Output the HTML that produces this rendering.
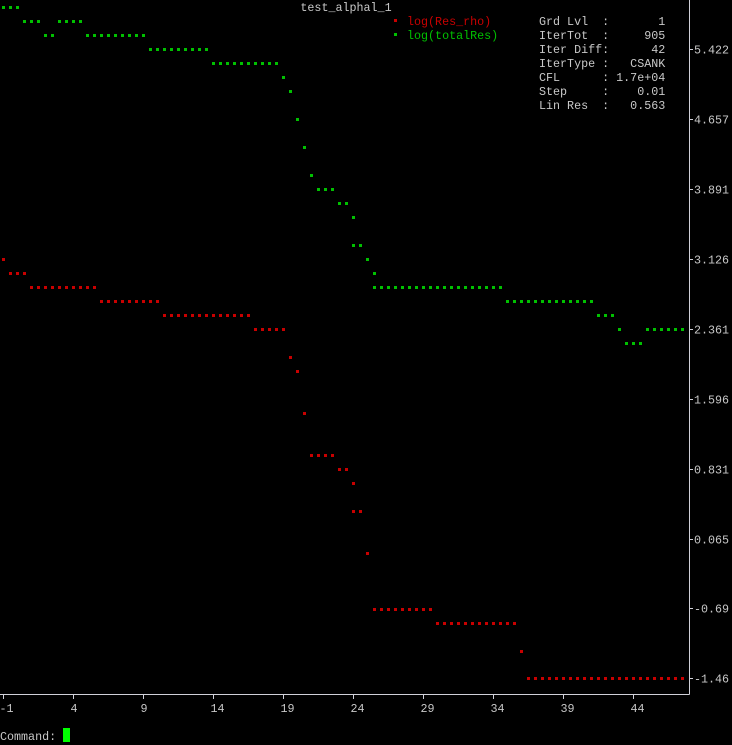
<!DOCTYPE html>
<html><head><meta charset="utf-8"><style>
html,body{margin:0;padding:0;background:#000;width:732px;height:745px;overflow:hidden}
svg{display:block}
text{font-family:"Liberation Mono",monospace;font-size:11.7px;fill:#c8c8c8}
</style></head><body>
<svg id="chart" width="732" height="745" xmlns="http://www.w3.org/2000/svg">
<text x="346" y="11" text-anchor="middle">test_alphal_1</text>
<g>
<rect x="394" y="19" width="3" height="3" fill="#c80000"/>
<text x="407" y="25" style="fill:#c80000">log(Res_rho)</text>
<rect x="394" y="33" width="3" height="3" fill="#00c000"/>
<text x="407" y="39" style="fill:#00c000">log(totalRes)</text>
</g>
<text xml:space="preserve" style="white-space:pre">
<tspan x="539" y="25">Grd Lvl  :       1</tspan>
<tspan x="539" y="39">IterTot  :     905</tspan>
<tspan x="539" y="53">Iter Diff:      42</tspan>
<tspan x="539" y="67">IterType :   CSANK</tspan>
<tspan x="539" y="81">CFL      : 1.7e+04</tspan>
<tspan x="539" y="95">Step     :    0.01</tspan>
<tspan x="539" y="109">Lin Res  :   0.563</tspan>
</text>
<line x1="689.5" y1="0" x2="689.5" y2="694.5" stroke="#d0d0d8" stroke-width="1"/>
<line x1="0" y1="694.5" x2="689.5" y2="694.5" stroke="#d0d0d8" stroke-width="1"/>
<g id="marks"></g>
<text x="0" y="740">Command:</text>
<rect x="63" y="728" width="7" height="14" fill="#00ff00"/>
</svg>
<script>
const yTicks = [5.422, 4.657, 3.891, 3.126, 2.361, 1.596, 0.831, 0.065, -0.69, -1.46];
const xTicks = [-1, 4, 9, 14, 19, 24, 29, 34, 39, 44];
const greenX = [-1,-0.5,0, 0.5,1,1.5, 2,2.5, 3,3.5,4,4.5, 5,5.5,6,6.5,7,7.5,8,8.5,9,
 9.5,10,10.5,11,11.5,12,12.5,13,13.5, 14,14.5,15,15.5,16,16.5,17,17.5,18,18.5,
 19,19.5,20,20.5,21, 21.5,22,22.5, 23,23.5, 24,24,24.5, 25,
 25.5,25.5,26,26.5,27,27.5,28,28.5,29,29.5,30,30.5,31,31.5,32,32.5,33,33.5,34,34.5,
 35,35.5,36,36.5,37,37.5,38,38.5,39,39.5,40,40.5,41, 41.5,42,42.5, 43, 43.5,44,44.5,
 45,45.5,46,46.5,47,47.5];
const greenY = [5.881,5.881,5.881, 5.728,5.728,5.728, 5.575,5.575, 5.728,5.728,5.728,5.728,
 5.575,5.575,5.575,5.575,5.575,5.575,5.575,5.575,5.575,
 5.422,5.422,5.422,5.422,5.422,5.422,5.422,5.422,5.422,
 5.269,5.269,5.269,5.269,5.269,5.269,5.269,5.269,5.269,5.269,
 5.116,4.963,4.657,4.350,4.044, 3.891,3.891,3.891, 3.738,3.738, 3.585,3.279,3.279, 3.126,
 2.972,2.819,2.819,2.819,2.819,2.819,2.819,2.819,2.819,2.819,2.819,2.819,2.819,2.819,2.819,2.819,2.819,2.819,2.819,2.819,
 2.666,2.666,2.666,2.666,2.666,2.666,2.666,2.666,2.666,2.666,2.666,2.666,2.666,
 2.513,2.513,2.513, 2.361, 2.207,2.207,2.207, 2.361,2.361,2.361,2.361,2.361,2.361];
const redX = [-1, -0.5,0,0.5, 1,1.5,2,2.5,3,3.5,4,4.5,5,5.5, 6,6.5,7,7.5,8,8.5,9,9.5,10,
 10.5,11,11.5,12,12.5,13,13.5,14,14.5,15,15.5,16,16.5, 17,17.5,18,18.5,19,
 19.5,20,20.5, 21,21.5,22,22.5, 23,23.5, 24,24,24.5, 25,
 25.5,26,26.5,27,27.5,28,28.5,29,29.5, 30,30.5,31,31.5,32,32.5,33,33.5,34,34.5,35,35.5, 36,
 36.5,37,37.5,38,38.5,39,39.5,40,40.5,41,41.5,42,42.5,43,43.5,44,44.5,45,45.5,46,46.5,47,47.5];
const redY = [3.126, 2.972,2.972,2.972,
 2.819,2.819,2.819,2.819,2.819,2.819,2.819,2.819,2.819,2.819,
 2.666,2.666,2.666,2.666,2.666,2.666,2.666,2.666,2.666,
 2.513,2.513,2.513,2.513,2.513,2.513,2.513,2.513,2.513,2.513,2.513,2.513,2.513,
 2.361,2.361,2.361,2.361,2.361, 2.054,1.901,1.441, 0.982,0.982,0.982,0.982, 0.831,0.831,
 0.676,0.370,0.370, -0.089,
 -0.702,-0.702,-0.702,-0.702,-0.702,-0.702,-0.702,-0.702,-0.702,
 -0.855,-0.855,-0.855,-0.855,-0.855,-0.855,-0.855,-0.855,-0.855,-0.855,-0.855,-0.855,
 -1.161,
 -1.46,-1.46,-1.46,-1.46,-1.46,-1.46,-1.46,-1.46,-1.46,-1.46,-1.46,-1.46,-1.46,-1.46,-1.46,-1.46,-1.46,-1.46,-1.46,-1.46,-1.46,-1.46,-1.46];

const NS = 'http://www.w3.org/2000/svg';
function xScale(v){ return 3 + (v + 1) * 14; }
function yScale(v){ return 49 + (5.422 - v) * (70 / 0.7655); }
const svg = document.getElementById('chart');
const g = document.getElementById('marks');
yTicks.forEach(t => {
  const y = Math.round(yScale(t)) + 0.5;
  const l = document.createElementNS(NS, 'line');
  
  
  l.setAttribute('x1', 689); l.setAttribute('x2', 693);
  l.setAttribute('y1', y); l.setAttribute('y2', y);
  l.setAttribute('stroke', '#d0d0d8');
  g.appendChild(l);
  const tx = document.createElementNS(NS, 'text');
  
  
  tx.setAttribute('x', 694); tx.setAttribute('y', y + 4);
  tx.textContent = t.toString();
  g.appendChild(tx);
});
xTicks.forEach(t => {
  const x = Math.round(xScale(t)) + 0.5;
  const l = document.createElementNS(NS, 'line');
  
  
  l.setAttribute('x1', x); l.setAttribute('x2', x);
  l.setAttribute('y1', 694); l.setAttribute('y2', 699);
  l.setAttribute('stroke', '#d0d0d8');
  g.appendChild(l);
  const tx = document.createElementNS(NS, 'text');
  
  
  tx.setAttribute('x', t < 0 ? x - 4 : x - 3); tx.setAttribute('y', 712);
  tx.textContent = t.toString();
  g.appendChild(tx);
});
function drawSeries(xs, ys, color, name){
  for (let i = 0; i < xs.length; i++) {
    const r = document.createElementNS(NS, 'rect');
    
    
    r.setAttribute('x', Math.round(xScale(xs[i])) - 1);
    r.setAttribute('y', Math.round(yScale(ys[i])) - 1);
    r.setAttribute('width', 3); r.setAttribute('height', 3);
    r.setAttribute('fill', color);
    g.appendChild(r);
  }
}
drawSeries(redX, redY, '#c80000', 'res-rho-point');
drawSeries(greenX, greenY, '#00c000', 'total-res-point');
</script>
</body></html>
